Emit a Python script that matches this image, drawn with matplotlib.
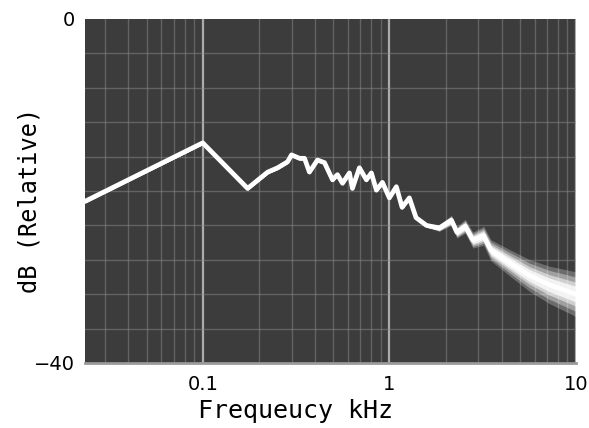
import matplotlib
matplotlib.use("Agg")
import matplotlib.pyplot as plt
import numpy as np

# Frequency (kHz) and level (dB relative)
freq_khz = [0.0234, 0.1, 0.174, 0.223, 0.252, 0.285, 0.299, 0.330, 0.351, 0.373,
            0.412, 0.449, 0.496, 0.527, 0.561, 0.611, 0.634, 0.691, 0.753, 0.801,
            0.852, 0.918, 1.0, 1.09, 1.17, 1.28, 1.39, 1.58, 1.85, 2.15,
            2.30, 2.55, 2.80, 3.20, 3.50, 4.38, 5.61, 7.17, 10.0]
level_db = [-21.2, -14.4, -19.7, -17.8, -17.3, -16.6, -15.8, -16.2, -16.2, -17.8,
            -16.4, -16.7, -18.7, -18.1, -19.1, -17.9, -19.7, -17.3, -18.7, -17.9,
            -19.9, -19.0, -20.8, -19.5, -21.9, -20.8, -23.1, -24.0, -24.3, -23.4,
            -24.8, -24.1, -25.7, -25.2, -26.9, -28.3, -29.8, -30.9, -32.0]

x_tick_vals = [0.1, 1, 10]
x_tick_labels = ["0.1", "1", "10"]
y_tick_vals = [-40, 0]
y_tick_labels = ["\u221240", "0"]

fig = plt.figure(figsize=(5.89, 4.28), dpi=100)
fig.patch.set_facecolor("white")
ax = fig.add_axes([85/589, 1-363/428, (576-85)/589, (363-19)/428])
ax.set_facecolor("#3c3c3c")

ax.set_xscale("log")
ax.set_xlim(0.0234, 10)
ax.set_ylim(-40, 0)

f = np.array(freq_khz)
d = np.array(level_db)

# bright glow band that widens toward high frequencies
lf = np.log10(f)
grow = np.clip((lf - np.log10(1.6)) / (1 - np.log10(1.6)), 0, 1)
for k, a in [(1.0, 0.25), (0.75, 0.35), (0.5, 0.5), (0.3, 0.75)]:
    hw = 0.2 + k * 2.4 * grow
    ax.fill_between(f, d - hw, d + hw, color="white", alpha=a,
                    lw=0, zorder=3)
ax.plot(f, d, color="white", lw=3.4, zorder=5,
        solid_joinstyle="round", solid_capstyle="round")

# grid
ax.set_yticks(y_tick_vals)
ax.set_yticklabels(y_tick_labels)
ax.set_yticks(np.arange(-36, 0, 4), minor=True)
ax.set_xticks(x_tick_vals)
ax.set_xticklabels(x_tick_labels)
ax.grid(True, which="minor", color="#8a8a8a", lw=1.0, alpha=0.5)
ax.grid(True, which="major", axis="x", color="#c0c0c0", lw=1.6, alpha=0.85)
ax.tick_params(which="both", length=0)
ax.tick_params(axis="x", pad=9, labelsize=14)
ax.tick_params(axis="y", pad=7, labelsize=14)
ax.tick_params(axis="y", which="minor", labelleft=False)

for s in ax.spines.values():
    s.set_visible(False)
ax.spines["bottom"].set_visible(True)
ax.spines["bottom"].set_color("#9a9a9a")
ax.spines["bottom"].set_linewidth(2)

fig.text(296/589, 1-418/428, "Frequeucy kHz", family="DejaVu Sans Mono",
         fontsize=18, ha="center", va="baseline")
fig.text(30/589, 1-200/428, "dB (Relative)", family="DejaVu Sans Mono",
         fontsize=17, rotation=90, ha="center", va="center")

fig.savefig("out.png", dpi=100)
